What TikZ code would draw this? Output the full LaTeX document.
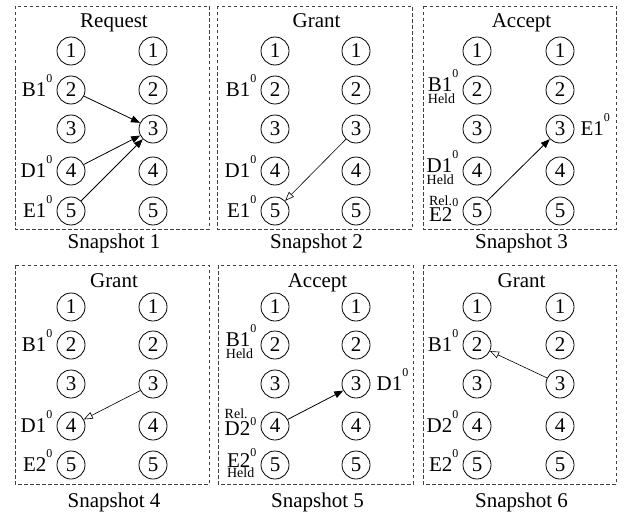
\documentclass[tikz,border=0pt]{standalone}
\usepackage{fontspec}
\setmainfont{Liberation Serif}
\usetikzlibrary{calc,arrows.meta}
\newcommand\zs[1][14pt]{\raisebox{#1}{\fontsize{12}{12}\selectfont 0}}
\begin{document}
\begin{tikzpicture}[x=1pt,y=-1pt,
  cn/.style={circle,draw,line width=0.8pt,minimum size=28pt,inner sep=0pt,font=\fontsize{21}{21}\selectfont},
  lab/.style={inner sep=0pt,font=\fontsize{21}{21}\selectfont},
  sm/.style={inner sep=0pt,font=\fontsize{14}{14}\selectfont},
  ttl/.style={anchor=base,inner sep=0pt,font=\fontsize{21}{21}\selectfont},
  pbox/.style={draw=black!75,dash pattern=on 3.5pt off 2.5pt,line width=0.8pt},
  farrow/.style={line width=0.8pt,-{Triangle[length=9pt,width=7pt]}},
  oarrow/.style={line width=0.6pt,-{Triangle[open,length=9pt,width=7pt]}}]
\useasboundingbox (0,0) rectangle (634,519);
% row 1
\foreach \p/\bx/\ex/\lx/\rx/\ti in {1/15/209/71/153/Request,2/217/412/275/356/Grant,3/423/616/477/560/Accept}{
  \draw[pbox] (\bx,6) rectangle (\ex,229);
  \node[ttl] (t\p) at ({(\bx+\ex)/2+2},27.5) {\ti};
  \node[ttl] (s\p) at ({(\bx+\ex)/2+2},248.5) {Snapshot \p};
  \foreach \i/\y in {1/51,2/90,3/129,4/171,5/211}{
    \node[cn] (p\p L\i) at (\lx,\y) {\i};
    \node[cn] (p\p R\i) at (\rx,\y) {\i};
  }
}
% row 2
\foreach \p/\bx/\ex/\lx/\rx/\ti in {4/15/209/71/153/Grant,5/218/413/275/356/Accept,6/423/616/477/560/Grant}{
  \draw[pbox] (\bx,265) rectangle (\ex,484);
  \node[ttl] (t\p) at ({(\bx+\ex)/2+2},287) {\ti};
  \node[ttl] (s\p) at ({(\bx+\ex)/2+2},507) {Snapshot \p};
  \foreach \i/\y in {1/307,2/345,3/384,4/426,5/465}{
    \node[cn] (p\p L\i) at (\lx,\y) {\i};
    \node[cn] (p\p R\i) at (\rx,\y) {\i};
  }
}
% panel 1
\node[lab,anchor=base east] (p1B) at ($(p1L2.west |- p1L2.base)+(-4,0)$) {B1\zs};
\node[lab,anchor=base east] (p1D) at ($(p1L4.west |- p1L4.base)+(-4,0)$) {D1\zs};
\node[lab,anchor=base east] (p1E) at ($(p1L5.west |- p1L5.base)+(-4,0)$) {E1\zs};
\draw[farrow] (p1L2) -- (p1R3);
\draw[farrow] (p1L4) -- (p1R3);
\draw[farrow] (p1L5) -- (p1R3);
% panel 2
\node[lab,anchor=base east] (p2B) at ($(p2L2.west |- p2L2.base)+(-4,0)$) {B1\zs};
\node[lab,anchor=base east] (p2D) at ($(p2L4.west |- p2L4.base)+(-4,0)$) {D1\zs};
\node[lab,anchor=base east] (p2E) at ($(p2L5.west |- p2L5.base)+(-4,0)$) {E1\zs};
\draw[oarrow] (p2R3) -- (p2L5);
% panel 3
\node[lab,anchor=base east] (p3B) at ($(p3L2.west |- p3L2.base)+(-4,-5)$) {B1\zs};
\node[sm,anchor=base west] (p3Bh) at ($(p3B.base west)+(0,12)$) {Held};
\node[lab,anchor=base east] (p3D) at ($(p3L4.west |- p3L4.base)+(-4,-5)$) {D1\zs};
\node[sm,anchor=base west] (p3Dh) at ($(p3D.base west)+(0,12)$) {Held};
\node[lab,anchor=base east] (p3E) at ($(p3L5.west |- p3L5.base)+(-4,4)$) {E2\zs[15pt]};
\node[sm,anchor=base west] (p3Er) at ($(p3E.base west)+(0,-16)$) {Rel.};
\node[lab,anchor=base west] (p3E1) at ($(p3R3.east |- p3R3.base)+(6,0)$) {E1\zs};
\draw[farrow] (p3L5) -- (p3R3);
% panel 4
\node[lab,anchor=base east] (p4B) at ($(p4L2.west |- p4L2.base)+(-4,0)$) {B1\zs};
\node[lab,anchor=base east] (p4D) at ($(p4L4.west |- p4L4.base)+(-4,0)$) {D1\zs};
\node[lab,anchor=base east] (p4E) at ($(p4L5.west |- p4L5.base)+(-4,0)$) {E2\zs};
\draw[oarrow] (p4R3) -- (p4L4);
% panel 5
\node[lab,anchor=base east] (p5B) at ($(p5L2.west |- p5L2.base)+(-4,-5)$) {B1\zs};
\node[sm,anchor=base west] (p5Bh) at ($(p5B.base west)+(0,12)$) {Held};
\node[lab,anchor=base east] (p5D) at ($(p5L4.west |- p5L4.base)+(-4,3)$) {D2\zs[10pt]};
\node[sm,anchor=base west] (p5Dr) at ($(p5D.base west)+(0,-17)$) {Rel.};
\node[lab,anchor=base east] (p5E) at ($(p5L5.west |- p5L5.base)+(-4,-4)$) {E2\zs[11pt]};
\node[sm,anchor=base west] (p5Eh) at ($(p5E.base west)+(0,10)$) {Held};
\node[lab,anchor=base west] (p5D1) at ($(p5R3.east |- p5R3.base)+(6,0)$) {D1\zs};
\draw[farrow] (p5L4) -- (p5R3);
% panel 6
\node[lab,anchor=base east] (p6B) at ($(p6L2.west |- p6L2.base)+(-4,0)$) {B1\zs};
\node[lab,anchor=base east] (p6D) at ($(p6L4.west |- p6L4.base)+(-4,0)$) {D2\zs};
\node[lab,anchor=base east] (p6E) at ($(p6L5.west |- p6L5.base)+(-4,0)$) {E2\zs};
\draw[oarrow] (p6R3) -- (p6L2);
\end{tikzpicture}
\end{document}
